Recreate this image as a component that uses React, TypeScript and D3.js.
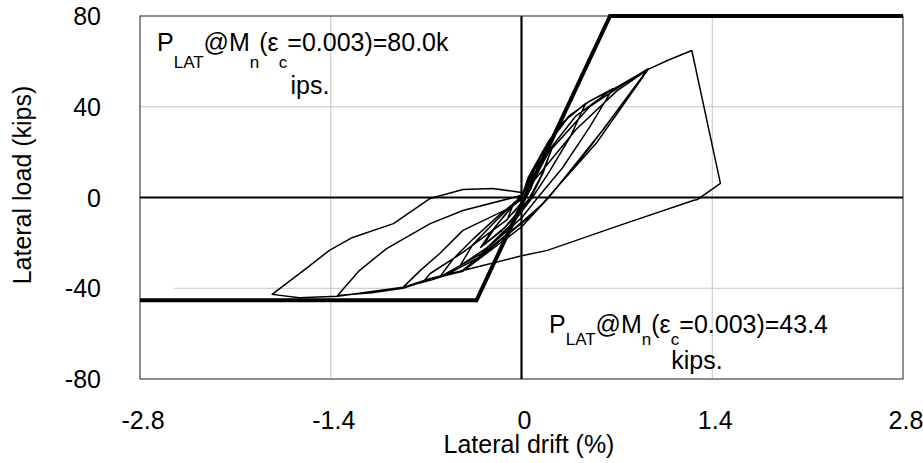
import React from "react";
import * as d3 from "d3";

const W = 923;
const H = 463;

const xTicks = [-2.8, -1.4, 0, 1.4, 2.8];
const yTicks = [80, 40, 0, -40, -80];
const xGridValues = [-1.4, 1.4];
const yGridValues = [40, -40];
const xLabel = "Lateral drift (%)";
const yLabel = "Lateral load (kips)";

// Measured hysteresis: [drift %, lateral load kips]
const hysteresis: [number, number][] = [
  [0, 0], [0.05, 6], [0.1, 10], [0.07, 4], [0.02, -1], [-0.05, -6], [-0.1, -9], [-0.06, -3], [0, 1],
  [0.08, 11], [0.15, 17], [0.22, 21.6], [0.16, 11], [0.07, 0], [-0.04, -8], [-0.15, -15], [-0.3, -22], [-0.22, -15], [-0.1, -6], [0, 0],
  [0.1, 13], [0.22, 21], [0.14, 9], [0.05, -1], [-0.12, -13], [-0.28, -21], [-0.18, -12], [-0.04, -2], [0.01, 1],
  [0.06, 9], [0.17, 21], [0.3, 33], [0.47, 41.4], [0.36, 27], [0.2, 11], [0.08, 0], [-0.06, -11], [-0.25, -22], [-0.45, -30], [-0.36, -21], [-0.2, -11], [-0.05, -2], [0, 0],
  [0.06, 10], [0.2, 25], [0.35, 36], [0.5, 42.5], [0.67, 48], [0.5, 31], [0.3, 13], [0.12, 0], [0, -9], [-0.3, -25], [-0.6, -35], [-0.5, -27], [-0.35, -18], [-0.15, -7], [0, 0],
  [0.05, 9], [0.2, 24], [0.34, 35], [0.47, 41.4], [0.55, 44], [0.67, 47.6], [0.76, 50.7], [0.87, 54.6], [0.93, 56.8], [0.6, 30], [0.2, 0], [0.05, -9], [-0.3, -26], [-0.55, -34], [-0.72, -37], [-0.67, -33.5], [-0.43, -24.2], [-0.11, -10], [0.02, -1],
  [0.1, 13], [0.4, 36], [0.65, 47], [0.93, 56.5], [0.55, 24], [0.15, -3], [0, -11], [-0.43, -32], [-0.67, -36.5], [-0.87, -39.6], [-0.74, -32], [-0.6, -24.7], [-0.43, -14.5], [-0.08, -4.4], [0.02, 0],
  [0.2, 20], [0.5, 40], [0.8, 52], [0.92, 56], [0.5, 22], [0.2, 0], [0, -13], [-0.43, -32.5], [-0.67, -36], [-0.87, -40], [-1.1, -42], [-1.35, -43.2], [-1.19, -32.2], [-0.99, -22.5], [-0.67, -11.5], [-0.43, -5.7], [-0.06, 0], [0, 1],
  [0.1, 8], [0.4, 30], [0.7, 47], [0.93, 56.5], [1.07, 60.4], [1.25, 64.8], [1.46, 6.2], [1.29, -0.9], [1.26, -1.3], [0.72, -12.3], [0.19, -23.3], [0.01, -25.6], [-0.43, -32.2], [-0.67, -35.7], [-0.87, -39.6], [-1.35, -43.5], [-1.63, -44.2], [-1.83, -42.7], [-1.57, -30.8], [-1.41, -23.3], [-1.24, -17.6], [-0.94, -11.5], [-0.67, -0.4], [-0.43, 3.5], [-0.21, 4], [0, 2.2],
];

// Nominal capacity envelope
const envelopeDrift = [-2.8, -0.33, 0.65, 2.8];
const envelopeLoad = [-45.3, -45.3, 80, 80];

// Grid line at -40 starts from this drift value
const yGridStart = [-2.8, -2.55];

const FONT = "'Liberation Sans', Arial, sans-serif";

export default function App() {
  const x = d3.scaleLinear().domain([-2.8, 2.8]).range([140, 903]);
  const y = d3.scaleLinear().domain([-80, 80]).range([379, 16]);

  const line = d3
    .line<[number, number]>()
    .x((d) => x(d[0]))
    .y((d) => y(d[1]));

  const envelope: [number, number][] = envelopeDrift.map((d, i) => [d, envelopeLoad[i]]);

  const sub = (t: string, dy: number) => (
    <tspan fontSize={17} dy={dy}>{t}</tspan>
  );

  return (
    <svg width={W} height={H} style={{ display: "block", position: "absolute", left: 0, top: 0 }}>
      <rect width={W} height={H} fill="#fff" />
      {xGridValues.map((v) => (
        <line key={"gx" + v} x1={x(v)} x2={x(v)} y1={y(80)} y2={y(-80)} stroke="#c4c4c4" strokeWidth={1} />
      ))}
      {yGridValues.map((v, i) => (
        <line key={"gy" + v} x1={x(yGridStart[i])} x2={x(2.8)} y1={y(v)} y2={y(v)} stroke="#c4c4c4" strokeWidth={1} />
      ))}
      <rect x={x(-2.8)} y={y(80)} width={x(2.8) - x(-2.8)} height={y(-80) - y(80)} fill="none" stroke="#444" strokeWidth={1.2} />
      <line x1={x(-2.8)} x2={x(2.8)} y1={y(0)} y2={y(0)} stroke="#000" strokeWidth={2.2} />
      <line x1={x(0)} x2={x(0)} y1={y(80)} y2={y(-80)} stroke="#000" strokeWidth={2.2} />

      <path d={line(hysteresis) || ""} fill="none" stroke="#000" strokeWidth={1.5} strokeLinejoin="round" />
      <path d={line(envelope) || ""} fill="none" stroke="#000" strokeWidth={4} strokeLinejoin="miter" />

      <g fontFamily={FONT} fontSize={25} fill="#000">
        {yTicks.map((v) => (
          <text key={"yt" + v} x={101} y={y(v)} textAnchor="end" dominantBaseline="central">{v}</text>
        ))}
        {xTicks.map((v) => (
          <text key={"xt" + v} x={x(v) + 3} y={429} textAnchor="middle">{v}</text>
        ))}
        <text x={529} y={453} textAnchor="middle">{xLabel}</text>
        <text transform={`translate(31,185) rotate(-90)`} textAnchor="middle">{yLabel}</text>

        <text x={157} y={51}>
          P{sub("LAT", 17)}
          <tspan dy={-17}>@M</tspan>
          {sub("n", 17)}
          <tspan dy={-17}>(ε</tspan>
          {sub("c", 17)}
          <tspan dy={-17}>=0.003)=80.0k</tspan>
        </text>
        <text x={310} y={94} textAnchor="middle">ips.</text>

        <text x={549} y={333}>
          P{sub("LAT", 12)}
          <tspan dy={-12}>@M</tspan>
          {sub("n", 12)}
          <tspan dy={-12}>(ε</tspan>
          {sub("c", 12)}
          <tspan dy={-12}>=0.003)=43.4</tspan>
        </text>
        <text x={697} y={369} textAnchor="middle">kips.</text>
      </g>
    </svg>
  );
}
